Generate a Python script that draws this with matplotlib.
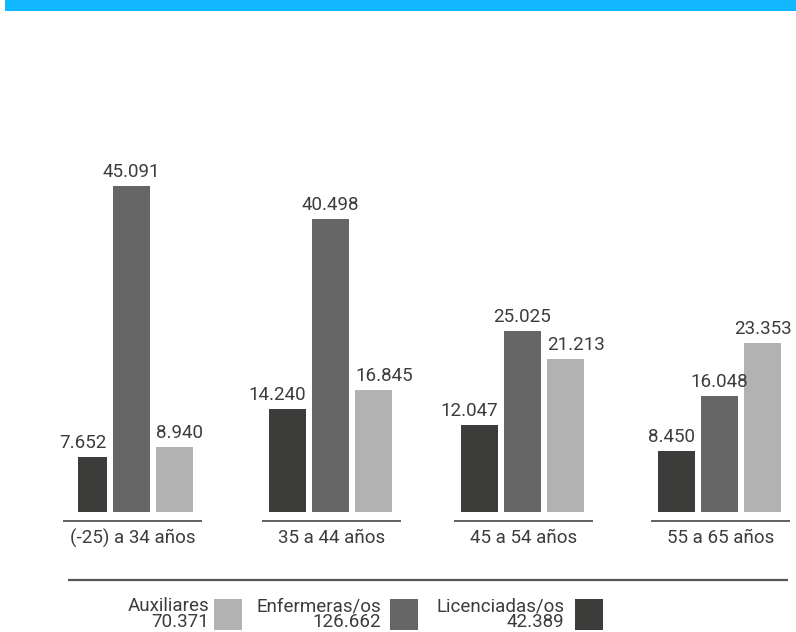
import matplotlib.pyplot as plt
from matplotlib.patches import Rectangle

# data
categorias = ["(-25) a 34 años", "35 a 44 años", "45 a 54 años", "55 a 65 años"]
licenciadas = [7652, 14240, 12047, 8450]
enfermeras = [45091, 40498, 25025, 16048]
auxiliares = [8940, 16845, 21213, 23353]
series_nombres = ["Auxiliares", "Enfermeras/os", "Licenciadas/os"]
series_totales = [70371, 126662, 42389]

c_lic = '#3c3c3b'
c_enf = '#666666'
c_aux = '#b2b2b2'
c_txt = '#3c3c3b'

plt.rcParams['font.family'] = ['Roboto', 'DejaVu Sans']


def fmt(v):
    return f"{v:,}".replace(",", ".")


W, H = 796, 632
fig = plt.figure(figsize=(W / 100, H / 100), dpi=100)

# capa de fondo en pixeles (franja superior, lineas, leyenda)
bg = fig.add_axes([0, 0, 1, 1])
bg.set_xlim(0, W)
bg.set_ylim(H, 0)
bg.axis('off')
bg.add_patch(Rectangle((5, 0), W - 5, 11, color='#12b8ff', lw=0))

# ejes de las barras: base en y=512 px, 7.23 px por cada 1000
base = 512
escala = 7.23 / 1000
ax = fig.add_axes([0, (H - base) / H, 1, base / H])
ax.set_xlim(0, W)
ax.set_ylim(0, base / escala)
ax.axis('off')

centros = [131.5, 330.5, 522.5, 719.5]
sep = 43
ancho = 37
ancho_lic = [29, 37, 37, 37]   # la primera barra oscura es mas angosta
fs = 13.5
pad = 5 / escala
# alineacion de la etiqueta de la barra clara (la ultima no cabe a la izquierda)
alin_aux = ['left', 'left', 'left', 'center']

for i, cat in enumerate(categorias):
    c = centros[i]
    # licenciadas: etiqueta alineada al borde derecho
    der = c - sep + ancho / 2
    ax.bar(der, licenciadas[i], width=-ancho_lic[i], align='edge', color=c_lic, linewidth=0)
    ax.text(der, licenciadas[i] + pad, fmt(licenciadas[i]),
            ha='right', va='bottom', fontsize=fs, color=c_txt)
    # enfermeras: centrada
    ax.bar(c, enfermeras[i], width=ancho, color=c_enf, linewidth=0)
    ax.text(c, enfermeras[i] + pad, fmt(enfermeras[i]),
            ha='center', va='bottom', fontsize=fs, color=c_txt)
    # auxiliares
    ax.bar(c + sep, auxiliares[i], width=ancho, color=c_aux, linewidth=0)
    xa = {'left': c + sep - ancho / 2, 'center': c + sep}[alin_aux[i]]
    ax.text(xa, auxiliares[i] + pad, fmt(auxiliares[i]),
            ha=alin_aux[i], va='bottom', fontsize=fs, color=c_txt)

    bg.plot([c - 69, c + 70], [521, 521], color='#555555', lw=1.3, solid_capstyle='butt')
    bg.text(c + 1, 538, cat, ha='center', va='center', fontsize=fs, color=c_txt)

# linea larga
bg.plot([68, 788], [580, 580], color='#555555', lw=1.6, solid_capstyle='butt')

# leyenda
cuadros_x = [214, 390, 575]
texto_x = [209, 381, 564]
colores_leg = [c_aux, c_enf, c_lic]
for nombre, total, x0, xt, col in zip(series_nombres, series_totales, cuadros_x, texto_x, colores_leg):
    bg.add_patch(Rectangle((x0, 599), 28, 31, color=col, lw=0))
    bg.text(xt, 631, nombre + "\n" + fmt(total), ha='right', va='bottom',
            multialignment='right', linespacing=0.85, fontsize=13.5, color=c_txt)

fig.savefig('out.png', dpi=100, facecolor='white')
